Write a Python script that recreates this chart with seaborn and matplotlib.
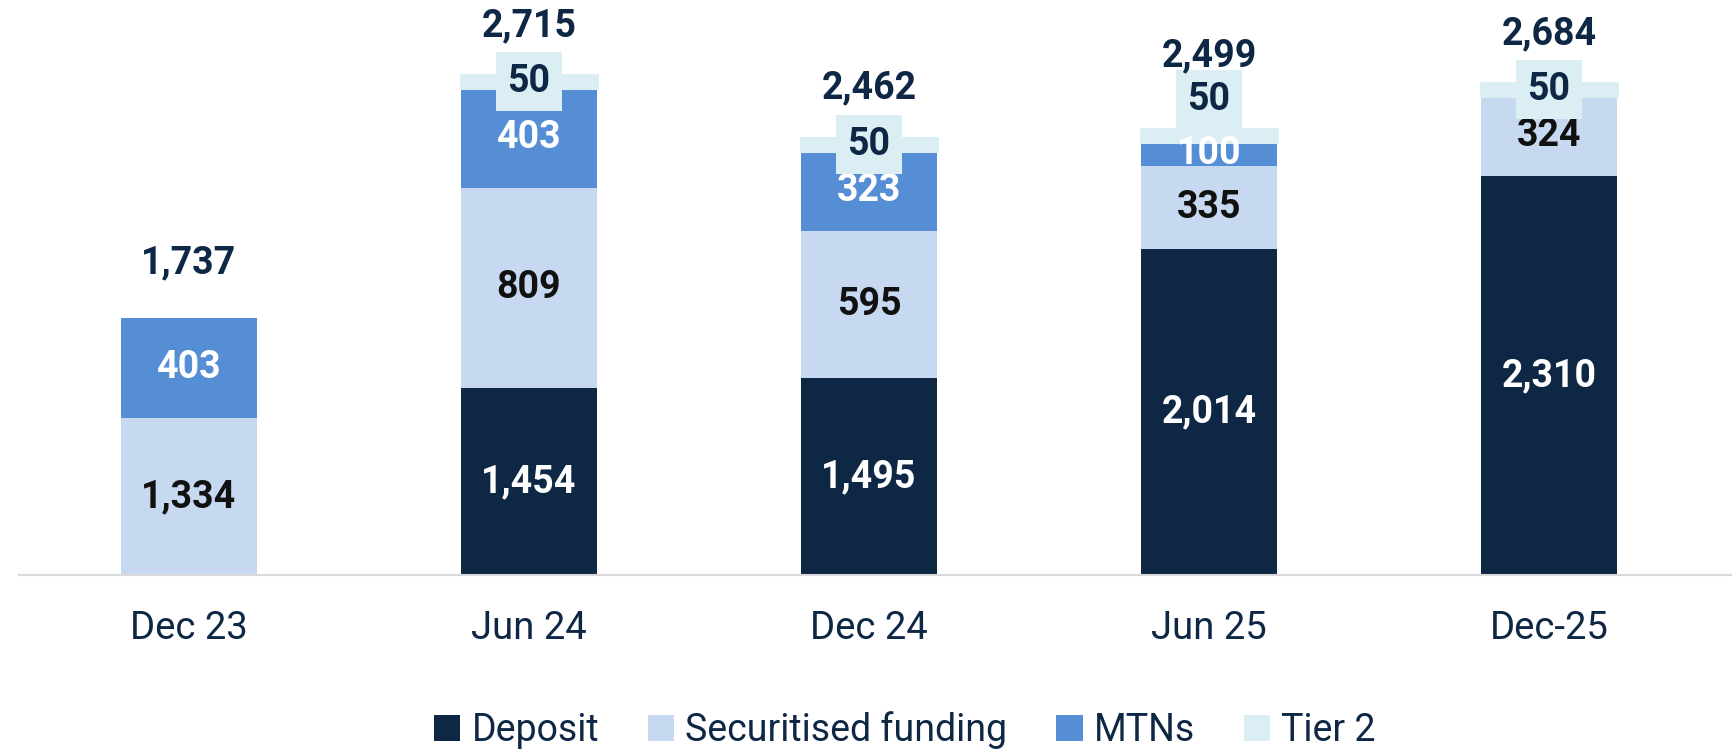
import matplotlib.pyplot as plt
from matplotlib.patches import Patch
import seaborn as sns
import numpy as np

# chart data
periods = ["Dec 23", "Jun 24", "Dec 24", "Jun 25", "Dec-25"]
deposit = [0, 1454, 1495, 2014, 2310]
securitised = [1334, 809, 595, 335, 324]
mtns = [403, 403, 323, 100, 0]
tier2 = [0, 50, 50, 50, 50]
totals = [1737, 2715, 2462, 2499, 2684]
series_names = ["Deposit", "Securitised funding", "MTNs", "Tier 2"]

NAVY = "#0E2745"
colors = ["#0E2745", "#C6D9F1", "#558ED5", "#DAEEF3"]
label_colors = ["white", "#111111", "white", NAVY]
Y_MIN = 700

sns.set_style("white")
plt.rcParams["font.family"] = ["Roboto", "DejaVu Sans"]

fig = plt.figure(figsize=(17.32, 7.54), dpi=100)
ax = fig.add_axes([19 / 1732, 179 / 754, 1713 / 1732, 575 / 754])

layers = [deposit, securitised, mtns, tier2]
bottom = np.zeros(len(periods))
for k, (name, vals) in enumerate(zip(series_names, layers)):
    vals = np.array(vals, dtype=float)
    if name == "Tier 2":
        # thick edge of the same colour gives the rounded, slightly wider band
        kws = dict(edgecolor=colors[k], joinstyle="round",
                   linewidth=[2.2 if v > 0 else 0 for v in vals])
    else:
        kws = dict(linewidth=0)
    sns.barplot(x=periods, y=vals, bottom=bottom, color=colors[k], width=0.4,
                saturation=1, ax=ax, **kws)

    # segment labels
    for i, v in enumerate(vals):
        if v <= 0:
            continue
        lo = max(bottom[i], Y_MIN)
        yc = (lo + bottom[i] + v) / 2
        if name == "Tier 2":
            # lift the label when the MTN slice below is too thin
            lift = 36 if 0 < mtns[i] < 150 else 0
            ax.annotate(f"{int(v):,}", xy=(i, yc), xytext=(0, lift),
                        textcoords="offset pixels", ha="center", va="center",
                        fontsize=27, fontweight="bold", color=label_colors[k],
                        bbox=dict(boxstyle="square,pad=0.3", fc=colors[k], ec="none"))
        else:
            ax.text(i, yc, f"{int(v):,}", ha="center", va="center",
                    fontsize=27, fontweight="bold", color=label_colors[k])
    bottom = bottom + vals

# totals above the stacks
for i, t in enumerate(totals):
    off = 73 if 0 < mtns[i] < 150 else (55 if tier2[i] == 0 else 50)
    ax.annotate(f"{t:,}", xy=(i, bottom[i]), xytext=(0, off),
                textcoords="offset pixels", ha="center", va="center",
                fontsize=27, fontweight="bold", color=NAVY)

ax.set_ylim(Y_MIN, Y_MIN + 575 / 0.2478)
ax.set_xlim(-0.5, -0.5 + 1713 / 340)
ax.set_yticks([])
ax.set_xlabel("")
ax.set_ylabel("")
for s in ["top", "left", "right"]:
    ax.spines[s].set_visible(False)
ax.spines["bottom"].set_color("#D9D9D9")
ax.spines["bottom"].set_linewidth(1.5)
ax.tick_params(axis="x", length=0, pad=25, labelsize=27.5, labelcolor=NAVY)

handles = [Patch(facecolor=c, edgecolor="none") for c in colors]
fig.legend(handles, series_names, loc="center", bbox_to_anchor=(0.5225, 0.032),
           ncol=4, frameon=False, fontsize=27, handlelength=0.7, handleheight=0.7,
           handletextpad=0.3, columnspacing=1.3, labelcolor=NAVY)

fig.savefig("out.png", dpi=100)
